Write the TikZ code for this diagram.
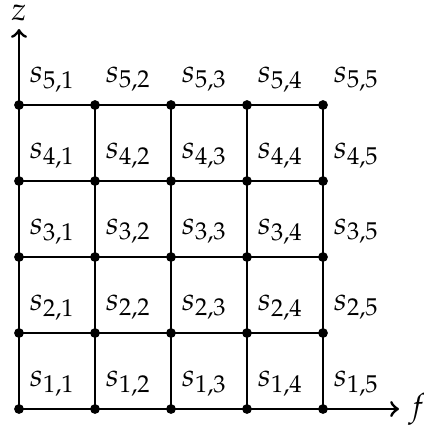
\documentclass[tikz,border=0pt]{standalone}
\usepackage{mathpazo}
\begin{document}
\begin{tikzpicture}[x=0.9cm,y=0.9cm,
  gridline/.style={line width=0.5pt},
  axisline/.style={line width=1pt,->},
  dot/.style={circle,fill=black,inner sep=0pt,minimum size=3.3pt},
  cell/.style={inner sep=0pt,font=\fontsize{10.8}{13}\selectfont}]
\useasboundingbox (-0.25,-0.263) rectangle (5.329,5.382);
\foreach \i in {1,...,4}{
  \draw[gridline] (0,\i) -- (4,\i);
  \draw[gridline] (\i,0) -- (\i,4);
}
\coordinate (o) at (0,0);
\coordinate (ztip) at (0,5);
\coordinate (ftip) at (5,0);
\draw[axisline] (o) -- (ztip);
\draw[axisline] (o) -- (ftip);
\node[anchor=south,inner sep=2.5pt,font=\fontsize{10.8}{13}\selectfont] (zl) at (ztip) {$z$};
\node[anchor=west,inner sep=3pt,font=\fontsize{10.8}{13}\selectfont] (fl) at (ftip) {$f$};
\foreach \x in {0,...,4}
  \foreach \y in {0,...,4}
    \node[dot] (d\x\y) at (\x,\y) {};
\foreach \i in {1,...,5}
  \foreach \j in {1,...,5}
    \node[cell] (s\i\j) at ({\j-1+0.44},{\i-1+0.34}) {$s_{\i,\j}$};
\end{tikzpicture}
\end{document}
